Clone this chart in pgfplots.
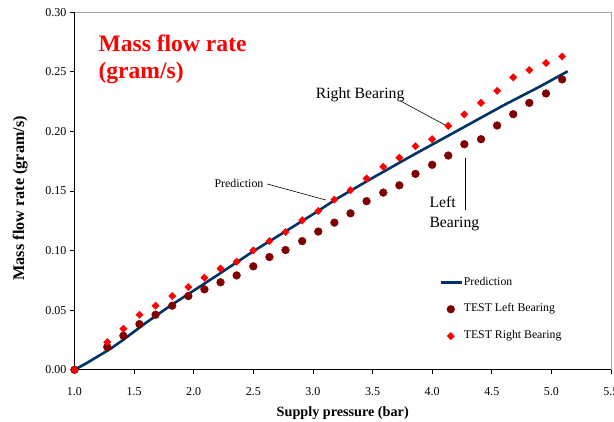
\documentclass[border=0pt]{standalone}
\usepackage{fontspec}
\setmainfont{Liberation Serif}
\usepackage{pgfplots}
\pgfplotsset{compat=1.18}
\definecolor{predblue}{RGB}{0,51,102}
\definecolor{leftred}{RGB}{128,0,0}
\definecolor{rightred}{RGB}{255,0,0}
\pgfplotsset{
  mylineleg/.style={legend image code/.code={\draw[##1] (0pt,0pt) -- (20.7pt,0pt);}},
  mymarkleg/.style={legend image code/.code={\draw[mark repeat=2,mark phase=2,##1] plot coordinates {(0pt,0pt) (10pt,0pt) (20.7pt,0pt)};}},
}
\begin{document}
\begin{tikzpicture}
\useasboundingbox (-74.5pt,-52.2pt) rectangle (539.5pt,369.8pt);
\begin{axis}[
  at={(0pt,0pt)}, anchor=south west, scale only axis,
  width=536.5pt, height=357.5pt,
  xmin=1, xmax=5.5, ymin=0, ymax=0.3,
  xtick={1,1.5,2,2.5,3,3.5,4,4.5,5,5.5},
  ytick={0,0.05,0.1,0.15,0.2,0.25,0.3},
  axis line style={draw=gray!70, line width=0.8pt},
  tick align=outside, tick pos=left,
  major tick length=4.5pt,
  tick style={black, line width=0.8pt},
  ticklabel style={font=\fontsize{12}{14}\selectfont},
  /pgf/number format/assume math mode=true,
  xticklabel style={/pgf/number format/.cd, fixed, fixed zerofill, precision=1, /tikz/.cd, yshift=-10pt},
  yticklabel style={/pgf/number format/.cd, fixed, fixed zerofill, precision=2},
  clip=false,
  xlabel={Supply pressure (bar)},
  xlabel style={at={(axis description cs:0.5,0)}, anchor=base, yshift=-46.9pt, font=\fontsize{14.2}{16}\selectfont\bfseries},
  ylabel={Mass flow rate (gram/s)},
  ylabel style={at={(axis description cs:-0.0941,0.4797)}, anchor=base, font=\fontsize{16.2}{18}\selectfont\bfseries},
  legend style={at={(axis description cs:0.68,0.2624)}, anchor=north west, draw=none, fill=none,
    font=\fontsize{11.8}{14}\selectfont, row sep=14.3pt, inner sep=0pt,
    nodes={text height=8pt, text depth=2.5pt, inner sep=1pt}},
  legend cell align=left,
]
\draw[black, line width=1pt] (rel axis cs:0,1) -- (rel axis cs:0,0) -- (rel axis cs:1,0);
\addplot[predblue, line width=2.6pt, no marks, mylineleg]
  coordinates {
  (1.0,0.0) (1.1,0.0055) (1.2,0.0115) (1.3,0.0175) (1.4,0.0245) (1.5,0.0320)
  (1.6,0.0395) (1.7,0.0465) (1.8,0.0535) (1.9,0.0600) (2.0,0.0665) (2.2,0.0795)
  (2.5,0.0995) (2.8,0.1180) (3.0,0.1305) (3.2,0.1435) (3.5,0.1610) (3.8,0.1780)
  (4.0,0.1890) (4.3,0.2055) (4.6,0.2220) (4.9,0.2375) (5.137,0.2505)
  };
\addlegendentry{Prediction}
\addplot[only marks, mark=*, mark size=3.9pt, mark options={fill=leftred, draw=leftred}, mymarkleg]
  coordinates {
  (1.0,0.000) (1.275,0.0190) (1.41,0.0286) (1.545,0.0383) (1.68,0.0462) (1.82,0.0538)
  (1.955,0.0619) (2.09,0.0675) (2.225,0.0734) (2.36,0.0792) (2.5,0.0868) (2.635,0.0946)
  (2.77,0.1005) (2.91,0.1080) (3.045,0.1160) (3.18,0.1235) (3.315,0.1313) (3.45,0.1415)
  (3.59,0.1487) (3.725,0.1548) (3.86,0.1644) (4.0,0.1720) (4.135,0.1798) (4.27,0.1893)
  (4.41,0.1935) (4.545,0.2050) (4.68,0.2145) (4.815,0.2240) (4.955,0.2319) (5.09,0.2437)
  };
\addlegendentry{TEST Left Bearing}
\addplot[only marks, mark=square*, mark size=2.6pt, mark options={rotate=45, fill=rightred, draw=rightred}, mymarkleg]
  coordinates {
  (1.0,0.000) (1.275,0.0232) (1.41,0.0344) (1.545,0.0462) (1.68,0.0538) (1.82,0.0619)
  (1.955,0.0694) (2.09,0.0773) (2.225,0.0849) (2.36,0.0907) (2.5,0.1002) (2.635,0.1080)
  (2.77,0.1156) (2.91,0.1254) (3.045,0.1333) (3.18,0.1428) (3.315,0.1507) (3.45,0.1605)
  (3.59,0.1703) (3.725,0.1780) (3.86,0.1876) (4.0,0.1935) (4.135,0.2047) (4.27,0.2143)
  (4.41,0.2240) (4.545,0.2341) (4.68,0.2454) (4.815,0.2515) (4.955,0.2574) (5.09,0.2630)
  };
\addlegendentry{TEST Right Bearing}
\end{axis}
\node[anchor=base west, inner sep=0pt, text=rightred, font=\fontsize{23.6}{27}\selectfont\bfseries] at (23.8pt,318.1pt) {Mass flow rate};
\node[anchor=base west, inner sep=0pt, text=rightred, font=\fontsize{23.6}{27}\selectfont\bfseries] at (23.8pt,291.5pt) {(gram/s)};
\node[anchor=base west, inner sep=0pt, font=\fontsize{15.7}{18}\selectfont] at (241.2pt,270.8pt) {Right Bearing};
\draw[line width=0.6pt] (325.5pt,269.1pt) -- (370.5pt,244.8pt);
\node[anchor=base west, inner sep=0pt, font=\fontsize{11.9}{14}\selectfont] at (139.8pt,182.5pt) {Prediction};
\draw[line width=0.6pt] (192.8pt,185.8pt) -- (251.2pt,169.8pt);
\node[anchor=base west, inner sep=0pt, font=\fontsize{15.7}{18}\selectfont] at (354.8pt,161.8pt) {Left};
\node[anchor=base west, inner sep=0pt, font=\fontsize{15.7}{18}\selectfont] at (354.8pt,141.8pt) {Bearing};
\draw[line width=0.6pt] (391.2pt,211.8pt) -- (391.2pt,159.8pt);
\end{tikzpicture}
\end{document}
